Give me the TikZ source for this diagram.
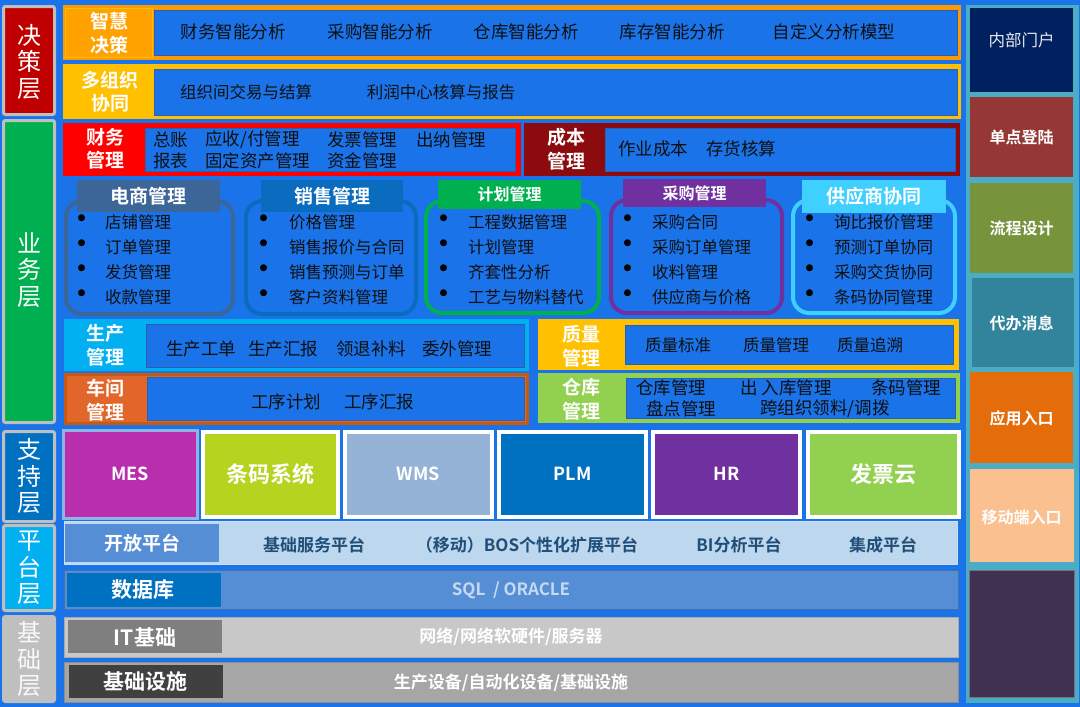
\documentclass[tikz,border=0pt]{standalone}
\usepackage{fontspec}
\setmainfont{Noto Sans CJK SC}[BoldFont={Noto Sans CJK SC Bold}]
\newcommand\fsz[2]{\fontsize{#1}{#2}\selectfont}
\definecolor{bgblue}{HTML}{1A73E8}
\definecolor{innerb}{HTML}{2C5FB0}
\definecolor{txtdark}{HTML}{101010}
\definecolor{lgray}{HTML}{BFBFBF}
\definecolor{c-jc}{HTML}{C00000}
\definecolor{c-yw}{HTML}{00B050}
\definecolor{c-zc}{HTML}{0070C0}
\definecolor{c-pt}{HTML}{00B0F0}
\definecolor{c-or}{HTML}{FF9900}
\definecolor{c-orl}{HTML}{FFA200}
\definecolor{c-yl}{HTML}{FFC000}
\definecolor{c-red}{HTML}{FF0000}
\definecolor{c-dred}{HTML}{8C0B0E}
\definecolor{c-ds}{HTML}{3C6598}
\definecolor{c-xs}{HTML}{0A6CBF}
\definecolor{c-jh}{HTML}{00B050}
\definecolor{c-cg}{HTML}{7030A0}
\definecolor{c-gys}{HTML}{3FD0FF}
\definecolor{c-sc}{HTML}{00B0F0}
\definecolor{c-cj}{HTML}{E2662A}
\definecolor{c-cjb}{HTML}{C55A11}
\definecolor{c-ck}{HTML}{92D050}
\definecolor{c-mes}{HTML}{B82EAD}
\definecolor{c-mesb}{HTML}{8DB4E2}
\definecolor{c-tm}{HTML}{B5D31F}
\definecolor{c-wms}{HTML}{95B3D7}
\definecolor{c-plm}{HTML}{0070C0}
\definecolor{c-hr}{HTML}{7030A0}
\definecolor{c-fp}{HTML}{92D050}
\definecolor{c-kf}{HTML}{BDD7EE}
\definecolor{c-kfl}{HTML}{558ED5}
\definecolor{c-kft}{HTML}{1F4E79}
\definecolor{c-db}{HTML}{558ED5}
\definecolor{c-dbl}{HTML}{0070C0}
\definecolor{c-dbt}{HTML}{C5D9F1}
\definecolor{c-it}{HTML}{C8C8C8}
\definecolor{c-itl}{HTML}{7F7F7F}
\definecolor{c-js}{HTML}{A6A6A6}
\definecolor{c-jsl}{HTML}{404040}
\definecolor{c-teal}{HTML}{4BACC6}
\definecolor{c-r1}{HTML}{002060}
\definecolor{c-r2}{HTML}{953735}
\definecolor{c-r3}{HTML}{77933C}
\definecolor{c-r4}{HTML}{31849B}
\definecolor{c-r5}{HTML}{E46C0A}
\definecolor{c-r6}{HTML}{FAC090}
\definecolor{c-r7}{HTML}{403151}
\newcommand\mylist[5]{%
  \foreach \s [count=\i] in {#5} {%
    \node[bul] (#1b\i) at (#2,{#4+25*(\i-1)}) {•};
    \node[itm] (#1\i) at (#3,{#4+25*(\i-1)}) {\s};
  }}
\begin{document}
\begin{tikzpicture}[x=1pt,y=-1pt,
  inbox/.style={fill=bgblue, draw=innerb, line width=0.8pt},
  body/.style={inner sep=0pt, text=txtdark, font=\fsz{17.5}{21}},
  bodyw/.style={body, anchor=west},
  itm/.style={inner sep=0pt, text=txtdark, anchor=west, font=\fsz{16.5}{20}},
  bul/.style={inner sep=0pt, text=black, font=\bfseries\fsz{27}{28}},
  lab/.style={inner sep=0pt, text=white, align=center, font=\bfseries\fsz{19}{23.5}},
  layer/.style={inner sep=0pt, text=white, align=center, font=\fsz{24}{26.5}},
  layerbox/.style={draw=lgray, line width=3pt, rounded corners=2pt},
  roundbox/.style={line width=4pt, rounded corners=16pt, fill=bgblue},
  hdr/.style={inner sep=0pt, text=white, font=\bfseries\fsz{19}{22}},
  hdrs/.style={inner sep=0pt, text=white, font=\bfseries\fsz{16}{19}},
  sysbox/.style={draw=white, line width=4pt},
  systxt/.style={inner sep=0pt, text=white, font=\bfseries\fsz{18}{21}},
  systxtc/.style={inner sep=0pt, text=white, font=\bfseries\fsz{22}{25}},
  bandlab/.style={inner sep=0pt, text=white, font=\bfseries\fsz{21}{24}},
  bandtxt/.style={inner sep=0pt, font=\bfseries\fsz{17}{20}},
  rtxt/.style={inner sep=0pt, text=white, font=\bfseries\fsz{16}{19}},
]
\useasboundingbox (0,0) rectangle (1080,707);
\fill[bgblue] (0,0) rectangle (1080,707);

% ---------- left layer column ----------
\draw[layerbox, fill=c-jc] (3.5,6.5) rectangle (54.5,114.5);
\node[layer] (L1) at (29,62) {决\\策\\层};
\draw[layerbox, fill=c-yw] (3.5,120.5) rectangle (54.5,422.5);
\node[layer] (L2) at (29,270) {业\\务\\层};
\draw[layerbox, fill=c-zc] (3.5,431.5) rectangle (54.5,521.5);
\node[layer] (L3) at (29,476) {支\\持\\层};
\draw[layerbox, fill=c-pt] (3.5,525.5) rectangle (54.5,610.5);
\node[layer] (L4) at (29,568) {平\\台\\层};
\draw[layerbox, fill=lgray] (3.5,616.5) rectangle (54.5,701.5);
\node[layer, text=white!95!gray] (L5) at (29,659) {基\\础\\层};

% ---------- row 1: 智慧决策 ----------
\fill[c-or] (63,5) rectangle (961,60);
\draw[fill=c-orl, draw=c-yl, line width=0.8pt] (65.5,8) rectangle (152,57);
\draw[inbox] (154,10) rectangle (957,55);
\node[lab] (zh) at (109,33) {智慧\\决策};
\node[body] (r1a) at (233,32) {财务智能分析};
\node[body] (r1b) at (380,32) {采购智能分析};
\node[body] (r1c) at (526,32) {仓库智能分析};
\node[body] (r1d) at (672,32) {库存智能分析};
\node[body] (r1e) at (834,32) {自定义分析模型};

% ---------- row 2: 多组织协同 ----------
\fill[c-yl] (63,64) rectangle (961,119);
\draw[inbox] (154,69) rectangle (957,115);
\node[lab] (dz) at (110,91.5) {多组织\\协同};
\node[body, font=\fsz{16.5}{20}] (r2a) at (246,92) {组织间交易与结算};
\node[body, font=\fsz{16.5}{20}] (r2b) at (441,92) {利润中心核算与报告};

% ---------- row 3: 财务管理 / 成本管理 ----------
\fill[c-red] (63,123) rectangle (521,176);
\draw[inbox] (145,128) rectangle (515,171);
\node[lab] (cw) at (105,149) {财务\\管理};
\node[bodyw] (cw1) at (153,140) {总账};
\node[bodyw] (cw2) at (205,140) {应收/付管理};
\node[bodyw] (cw3) at (327,140) {发票管理};
\node[bodyw] (cw4) at (416,140) {出纳管理};
\node[bodyw] (cw5) at (153,161) {报表};
\node[bodyw] (cw6) at (205,161) {固定资产管理};
\node[bodyw] (cw7) at (327,161) {资金管理};
\fill[c-dred] (524,123) rectangle (960,176);
\draw[inbox] (605,128) rectangle (955,171);
\node[lab] (cb) at (566,149) {成本\\管理};
\node[bodyw] (cb1) at (618,149) {作业成本};
\node[bodyw] (cb2) at (706,149) {存货核算};

% ---------- row 4: rounded module boxes ----------
\draw[roundbox, draw=c-ds] (66,201) rectangle (233,314);
\fill[c-ds] (77,180) rectangle (220,212);
\node[hdr] (dsh) at (148.5,196) {电商管理};
\mylist{ds}{82}{105}{222}{店铺管理,订单管理,发货管理,收款管理}

\draw[roundbox, draw=c-xs] (246,201) rectangle (416,314);
\fill[c-xs] (261,180) rectangle (403,212);
\node[hdr] (xsh) at (332,196) {销售管理};
\mylist{xs}{264}{289}{222}{价格管理,销售报价与合同,销售预测与订单,客户资料管理}

\draw[roundbox, draw=c-jh] (426,201) rectangle (599,313);
\fill[c-jh] (438,180) rectangle (581,209);
\node[hdrs] (jhh) at (509.5,194.5) {计划管理};
\mylist{jh}{444}{468}{222}{工程数据管理,计划管理,齐套性分析,工艺与物料替代}

\draw[roundbox, draw=c-cg] (611,200) rectangle (782,313);
\fill[c-cg] (623,179) rectangle (766,207);
\node[hdrs] (cgh) at (694.5,193) {采购管理};
\mylist{cg}{628}{652}{222}{采购合同,采购订单管理,收料管理,供应商与价格}

\draw[roundbox, draw=c-gys] (793,200) rectangle (955,313);
\fill[c-gys] (802,180) rectangle (946,213);
\node[hdr] (gysh) at (874,196) {供应商协同};
\mylist{gys}{810}{834}{222}{询比报价管理,预测订单协同,采购交货协同,条码协同管理}

% ---------- row 5: 生产管理 / 质量管理 ----------
\fill[c-sc] (64,319) rectangle (529,371);
\draw[inbox] (146,324) rectangle (524,367);
\node[lab] (sc) at (105,345) {生产\\管理};
\node[bodyw] (sc1) at (166,349) {生产工单};
\node[bodyw] (sc2) at (248,349) {生产汇报};
\node[bodyw] (sc3) at (336,349) {领退补料};
\node[bodyw] (sc4) at (422,349) {委外管理};
\fill[c-yl] (538,319) rectangle (959,370);
\draw[inbox] (625,325) rectangle (953,364);
\node[lab] (zl) at (581,346) {质量\\管理};
\node[bodyw, font=\fsz{16.5}{20}] (zl1) at (645,345) {质量标准};
\node[bodyw, font=\fsz{16.5}{20}] (zl2) at (743,345) {质量管理};
\node[bodyw, font=\fsz{16.5}{20}] (zl3) at (837,345) {质量追溯};

% ---------- row 6: 车间管理 / 仓库管理 ----------
\draw[fill=c-cj, draw=c-cjb, line width=3pt] (65.5,374.5) rectangle (527.5,423.5);
\draw[inbox] (147,377) rectangle (524,420);
\node[lab] (cj) at (105,400) {车间\\管理};
\node[bodyw] (cj1) at (251,402) {工序计划};
\node[bodyw] (cj2) at (344,402) {工序汇报};
\fill[c-ck] (538,373) rectangle (960,423);
\draw[inbox] (626,378) rectangle (955,418);
\node[lab] (ck) at (581,399) {仓库\\管理};
\node[bodyw] (ck1) at (636,388) {仓库管理};
\node[bodyw] (ck2) at (740,388) {出 入库管理};
\node[bodyw] (ck3) at (871,388) {条码管理};
\node[bodyw] (ck4) at (646,409) {盘点管理};
\node[bodyw] (ck5) at (760,409) {跨组织领料/调拨};

% ---------- row 7: support systems ----------
\draw[fill=c-mes, draw=c-mesb, line width=3pt] (63.5,430) rectangle (197.5,518.5);
\node[systxt] (mes) at (130,474) {MES};
\draw[sysbox, fill=c-tm] (203,432) rectangle (338,517);
\node[systxtc] (tm) at (270.5,474) {条码系统};
\draw[sysbox, fill=c-wms] (345,432) rectangle (492,517);
\node[systxt] (wms) at (418.5,474) {WMS};
\draw[sysbox, fill=c-plm] (499,432) rectangle (646,517);
\node[systxt] (plm) at (572.5,474) {PLM};
\draw[sysbox, fill=c-hr] (653,432) rectangle (800,517);
\node[systxt] (hr) at (726.5,474) {HR};
\draw[sysbox, fill=c-fp] (808,432) rectangle (959,517);
\node[systxtc] (fp) at (883.5,474) {发票云};

% ---------- row 8: 开放平台 ----------
\draw[fill=c-kf, draw=c-kf!80!white, line width=0.8pt] (64,521) rectangle (957,564);
\fill[c-kfl] (65,524) rectangle (219,562);
\node[bandlab, font=\bfseries\fsz{19}{22}] (kf) at (142,543) {开放平台};
\node[bandtxt, text=c-kft] (kf1) at (314,545) {基础服务平台};
\node[bandtxt, text=c-kft] (kf2) at (527,545) {（移动）BOS个性化扩展平台};
\node[bandtxt, text=c-kft] (kf3) at (739,545) {BI分析平台};
\node[bandtxt, text=c-kft] (kf4) at (883,545) {集成平台};

% ---------- row 9: 数据库 ----------
\draw[fill=c-db, draw=c-db!80!black, line width=0.8pt] (64,570) rectangle (958,609);
\fill[c-dbl] (67,573) rectangle (221,607);
\node[bandlab] (db) at (143,590) {数据库};
\node[bandtxt, text=c-dbt] (db1) at (511,590) {SQL \ / ORACLE};

% ---------- row 10: IT基础 ----------
\draw[fill=c-it, draw=c-it!85!black, line width=0.8pt] (64,617) rectangle (958,657);
\fill[c-itl] (68,620) rectangle (222,653);
\node[bandlab] (it) at (145,637) {IT基础};
\node[bandtxt, text=white] (it1) at (511,637) {网络/网络软硬件/服务器};

% ---------- row 11: 基础设施 ----------
\draw[fill=c-js, draw=c-js!85!black, line width=0.8pt] (64,662) rectangle (958,702);
\fill[c-jsl] (69,665) rectangle (223,698);
\node[bandlab] (js) at (145,682) {基础设施};
\node[bandtxt, text=white] (js1) at (511,683) {生产设备/自动化设备/基础设施};

% ---------- right column ----------
\fill[c-teal] (966,5) rectangle (1079,703);
\fill[c-r1] (970,8) rectangle (1073,92);
\node[rtxt, font=\fsz{16.5}{19}, text=white!90!c-r1] (p1) at (1021.5,40) {内部门户};
\fill[c-r2] (970,97) rectangle (1073,177);
\node[rtxt] (p2) at (1021.5,137) {单点登陆};
\fill[c-r3] (970,183) rectangle (1073,273);
\node[rtxt] (p3) at (1021.5,228) {流程设计};
\fill[c-r4] (972,278) rectangle (1074,367);
\node[rtxt] (p4) at (1021.5,323) {代办消息};
\fill[c-r5] (970,372) rectangle (1073,463);
\node[rtxt] (p5) at (1021.5,418) {应用入口};
\fill[c-r6] (970,469) rectangle (1074,562);
\node[rtxt] (p6) at (1021.5,517) {移动端入口};
\draw[fill=c-r7, draw=c-r7!70!white, line width=0.8pt] (969.5,570.5) rectangle (1074,697);
\end{tikzpicture}
\end{document}
